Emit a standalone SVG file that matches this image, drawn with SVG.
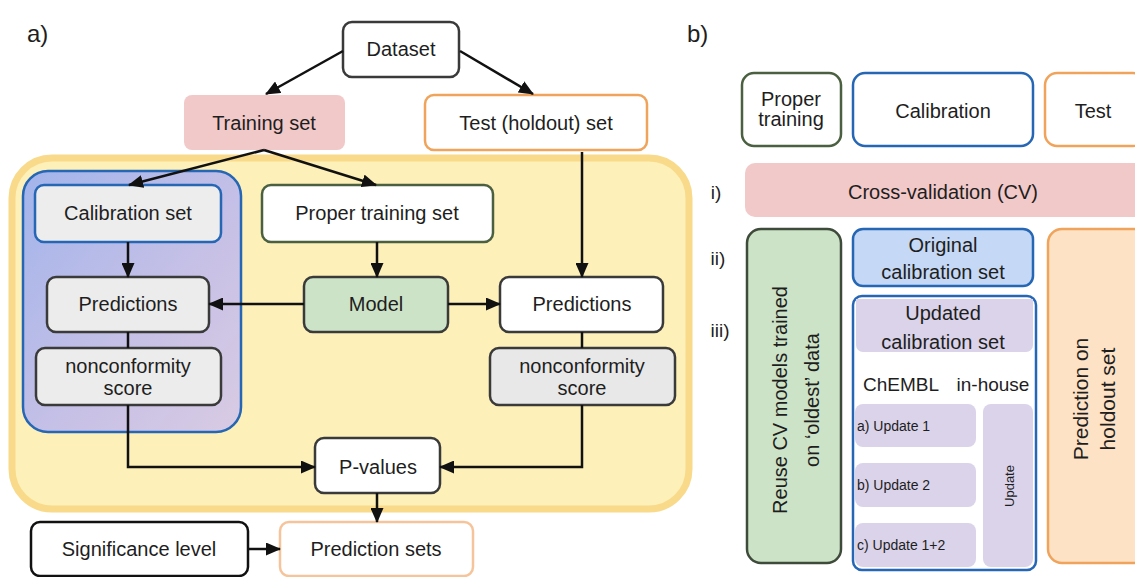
<svg xmlns="http://www.w3.org/2000/svg" width="1135" height="577" viewBox="0 0 1135 577">
<defs>
<style>
text{font-family:"Liberation Sans",Arial,sans-serif;fill:#1e1e1e;text-anchor:middle;dominant-baseline:central}
.t20{font-size:20px}
.t19{font-size:19px}
.t14{font-size:14px;text-anchor:start}
.lbl{font-size:24px;text-anchor:start}
.dark{stroke:#3a3a3a;stroke-width:2.5}
.conn{fill:none;stroke:#111;stroke-width:2.5}
</style>
<marker id="ah" markerWidth="15" markerHeight="13" refX="14" refY="6.5" orient="auto" markerUnits="userSpaceOnUse">
<path d="M0,0 L15,6.5 L0,13 z" fill="#111"/>
</marker>
<linearGradient id="bluegrad" x1="0" y1="0" x2="1" y2="1">
<stop offset="0" stop-color="#a2b4eb"/>
<stop offset="0.6" stop-color="#c8c1e6"/>
<stop offset="1" stop-color="#d8cbe3"/>
</linearGradient>
</defs>
<rect width="1135" height="577" fill="#ffffff"/>

<text class="lbl" x="27" y="33">a)</text>
<text class="lbl" x="687" y="33">b)</text>

<!-- Panel a containers -->
<g id="cp-region">
<rect x="12" y="158" width="677" height="351" rx="40" fill="#fdf0b8" stroke="#f9da8a" stroke-width="7"/>
</g>
<g id="calibration-group">
<rect x="23" y="171" width="218" height="261" rx="25" fill="url(#bluegrad)" stroke="#2566b5" stroke-width="2.5"/>
</g>

<g id="dataset"><rect x="343" y="22" width="116" height="55" rx="9" fill="#fff" class="dark"/><text class="t20" x="401" y="49">Dataset</text></g>
<g id="training-set"><rect x="184" y="95" width="161" height="55" rx="8" fill="#f2c9c9"/><text class="t20" x="264" y="123">Training set</text></g>
<g id="test-set"><rect x="425" y="95" width="222" height="55" rx="9" fill="#fff" stroke="#f0a35a" stroke-width="2.5"/><text class="t20" x="536" y="123">Test (holdout) set</text></g>
<g id="calibration-set"><rect x="35" y="185" width="186" height="57" rx="9" fill="#ededed" stroke="#2566b5" stroke-width="2.5"/><text class="t20" x="128" y="213">Calibration set</text></g>
<g id="proper-training-set"><rect x="262" y="185" width="231" height="57" rx="9" fill="#fff" stroke="#4a6040" stroke-width="2.5"/><text class="t20" x="377" y="213">Proper training set</text></g>
<g id="predictions-cal"><rect x="47" y="277" width="162" height="55" rx="9" fill="#ececec" class="dark"/><text class="t20" x="128" y="304">Predictions</text></g>
<g id="model"><rect x="304" y="277" width="144" height="55" rx="9" fill="#cde3c7" class="dark"/><text class="t20" x="376" y="304">Model</text></g>
<g id="predictions-test"><rect x="500" y="277" width="163" height="55" rx="9" fill="#fff" class="dark"/><text class="t20" x="582" y="304">Predictions</text></g>
<g id="nc-cal"><rect x="36" y="348" width="185" height="57" rx="9" fill="#ececec" class="dark"/><text class="t20" x="128" y="366">nonconformity</text><text class="t20" x="128" y="388">score</text></g>
<g id="nc-test"><rect x="490" y="348" width="185" height="57" rx="9" fill="#e8e8e8" class="dark"/><text class="t20" x="582" y="366">nonconformity</text><text class="t20" x="582" y="388">score</text></g>
<g id="p-values"><rect x="315" y="438" width="125" height="55" rx="9" fill="#fff" class="dark"/><text class="t20" x="378" y="467">P-values</text></g>
<g id="significance-level"><rect x="31" y="522" width="217" height="54" rx="9" fill="#fff" stroke="#111" stroke-width="2.5"/><text class="t20" x="139" y="549">Significance level</text></g>
<g id="prediction-sets"><rect x="280" y="522" width="193" height="54" rx="9" fill="#fff" stroke="#f6c49a" stroke-width="2.5"/><text class="t20" x="376" y="549">Prediction sets</text></g>

<g id="connectors">
<line class="conn" x1="343" y1="51" x2="266" y2="94" marker-end="url(#ah)"/>
<line class="conn" x1="460" y1="51" x2="533" y2="94" marker-end="url(#ah)"/>
<line class="conn" x1="264" y1="150" x2="129" y2="185" marker-end="url(#ah)"/>
<line class="conn" x1="264" y1="150" x2="376" y2="185" marker-end="url(#ah)"/>
<line class="conn" x1="582" y1="152" x2="582" y2="277" marker-end="url(#ah)"/>
<line class="conn" x1="128" y1="242" x2="128" y2="277" marker-end="url(#ah)"/>
<line class="conn" x1="377" y1="242" x2="377" y2="277" marker-end="url(#ah)"/>
<line class="conn" x1="304" y1="304" x2="209" y2="304" marker-end="url(#ah)"/>
<line class="conn" x1="448" y1="304" x2="500" y2="304" marker-end="url(#ah)"/>
<line class="conn" x1="128" y1="332" x2="128" y2="348"/>
<line class="conn" x1="582" y1="332" x2="582" y2="348"/>
<polyline class="conn" points="128,405 128,467 315,467" marker-end="url(#ah)"/>
<polyline class="conn" points="582,405 582,467 440,467" marker-end="url(#ah)"/>
<line class="conn" x1="377" y1="493" x2="377" y2="522" marker-end="url(#ah)"/>
<line class="conn" x1="248" y1="549" x2="280" y2="549" marker-end="url(#ah)"/>
</g>

<!-- Panel b -->
<g id="legend-proper-training"><rect x="742" y="73" width="99" height="73" rx="12" fill="#fff" stroke="#4a6040" stroke-width="2.5"/><text class="t20" x="791" y="99">Proper</text><text class="t20" x="791" y="119">training</text></g>
<g id="legend-calibration"><rect x="853" y="73" width="180" height="73" rx="12" fill="#fff" stroke="#2566b5" stroke-width="2.5"/><text class="t20" x="943" y="111">Calibration</text></g>
<g id="legend-test"><rect x="1045" y="73" width="100" height="73" rx="12" fill="#fff" stroke="#f0a35a" stroke-width="2.5"/><text class="t20" x="1093" y="111">Test</text></g>

<text class="t19" x="716" y="192">i)</text>
<text class="t19" x="718" y="258">ii)</text>
<text class="t19" x="720" y="330">iii)</text>

<g id="cross-validation"><rect x="745" y="163" width="400" height="54" rx="10" fill="#f2c9c9"/><text class="t20" x="943" y="192">Cross-validation (CV)</text></g>

<g id="reuse-cv-models"><rect x="747" y="229" width="94" height="334" rx="14" fill="#cde3c7" stroke="#3e4a3a" stroke-width="2.5"/>
<text class="t20" transform="translate(796,400) rotate(-90)" x="0" y="-16">Reuse CV models trained</text>
<text class="t20" transform="translate(796,400) rotate(-90)" x="0" y="16">on ‘oldest’ data</text></g>

<g id="original-calibration"><rect x="853" y="229" width="180" height="57" rx="10" fill="#c5d8f5" stroke="#2566b5" stroke-width="2.5"/><text class="t20" x="943" y="245">Original</text><text class="t20" x="943" y="272">calibration set</text></g>

<g id="updated-calibration">
<rect x="853" y="296" width="183" height="274" rx="9" fill="#fff" stroke="#2566b5" stroke-width="2.5"/>
<path d="M856,299 H1033 V345 a7,7 0 0 1 -7,7 H863 a7,7 0 0 1 -7,-7 Z" fill="#dad3ea"/>
<text class="t20" x="943" y="313">Updated</text><text class="t20" x="943" y="342">calibration set</text>
<text class="t19" x="901" y="384">ChEMBL</text><text class="t19" x="993" y="384">in-house</text>
</g>
<g id="update-a"><rect x="855" y="404" width="121" height="43" rx="8" fill="#dad3ea"/><text class="t14" x="857" y="426">a) Update 1</text></g>
<g id="update-b"><rect x="855" y="463" width="121" height="44" rx="8" fill="#dad3ea"/><text class="t14" x="857" y="485">b) Update 2</text></g>
<g id="update-c"><rect x="855" y="523" width="121" height="44" rx="8" fill="#dad3ea"/><text class="t14" x="857" y="545">c) Update 1+2</text></g>
<g id="update-inhouse"><rect x="983" y="404" width="50" height="163" rx="8" fill="#dad3ea"/><text transform="translate(1009,486) rotate(-90)" x="0" y="0" style="font-size:13px">Update</text></g>

<g id="prediction-holdout"><rect x="1048" y="229" width="100" height="334" rx="14" fill="#fde2c6" stroke="#f0a35a" stroke-width="2.5"/>
<text class="t20" transform="translate(1093,399) rotate(-90)" x="0" y="-13" style="font-size:21px">Prediction on</text>
<text class="t20" transform="translate(1093,399) rotate(-90)" x="0" y="14" style="font-size:21px">holdout set</text></g>
</svg>
